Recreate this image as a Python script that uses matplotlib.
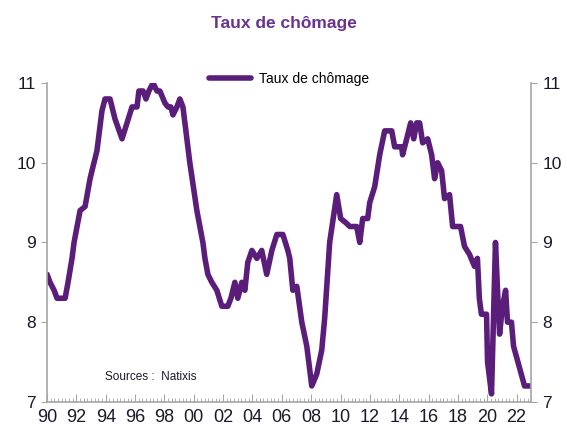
import matplotlib.pyplot as plt
from matplotlib.ticker import MultipleLocator

plt.rcParams['font.family'] = ['Liberation Sans', 'DejaVu Sans']

# Taux de chômage (France)
annees = [1990.00, 1990.20, 1990.48, 1990.68, 1991.23, 1991.43, 1991.70, 1991.84,
          1992.25, 1992.59, 1992.93, 1993.13, 1993.40, 1993.74, 1993.95, 1994.29,
          1994.63, 1995.11, 1995.45, 1995.79, 1996.13, 1996.26, 1996.54, 1996.74,
          1996.94, 1997.22, 1997.49, 1997.69, 1998.03, 1998.24, 1998.44, 1998.58,
          1998.85, 1999.05, 1999.26, 1999.73, 2000.21, 2000.62, 2000.76, 2000.96,
          2001.23, 2001.57, 2001.91, 2002.32, 2002.53, 2002.80, 2003.00, 2003.27,
          2003.48, 2003.68, 2003.96, 2004.30, 2004.63, 2004.97, 2005.32, 2005.66,
          2006.07, 2006.41, 2006.54, 2006.75, 2007.02, 2007.36, 2007.70, 2008.04,
          2008.38, 2008.72, 2008.92, 2009.26, 2009.74, 2010.01, 2010.35, 2010.63,
          2011.10, 2011.31, 2011.51, 2011.85, 2011.99, 2012.33, 2012.67, 2013.01,
          2013.49, 2013.69, 2014.17, 2014.23, 2014.51, 2014.78, 2014.99, 2015.19,
          2015.39, 2015.60, 2015.94, 2016.21, 2016.41, 2016.62, 2016.89, 2017.09,
          2017.43, 2017.64, 2018.18, 2018.45, 2018.79, 2019.13, 2019.33, 2019.46,
          2019.60, 2019.95, 2020.02, 2020.29, 2020.56, 2020.70, 2020.84, 2021.04,
          2021.25, 2021.38, 2021.65, 2021.79, 2022.54, 2022.95]
taux = [8.6, 8.5, 8.4, 8.3, 8.3, 8.5, 8.8, 9.0,
        9.4, 9.45, 9.8, 9.95, 10.15, 10.65, 10.8, 10.8,
        10.55, 10.3, 10.5, 10.7, 10.7, 10.9, 10.9, 10.8,
        10.9, 11.0, 10.9, 10.9, 10.75, 10.7, 10.7, 10.6,
        10.7, 10.8, 10.7, 10.0, 9.4, 9.0, 8.8, 8.6,
        8.5, 8.4, 8.2, 8.2, 8.3, 8.5, 8.3, 8.5,
        8.4, 8.75, 8.9, 8.8, 8.9, 8.6, 8.9, 9.1,
        9.1, 8.9, 8.8, 8.4, 8.45, 8.0, 7.7, 7.2,
        7.35, 7.65, 8.05, 9.0, 9.6, 9.3, 9.25, 9.2,
        9.2, 9.0, 9.3, 9.3, 9.5, 9.7, 10.1, 10.4,
        10.4, 10.2, 10.2, 10.1, 10.3, 10.5, 10.3, 10.5,
        10.5, 10.25, 10.3, 10.1, 9.8, 10.0, 9.9, 9.55,
        9.6, 9.2, 9.2, 8.95, 8.85, 8.7, 8.8, 8.3,
        8.1, 8.1, 7.5, 7.1, 9.0, 8.4, 7.85, 8.2,
        8.4, 8.0, 8.0, 7.7, 7.2, 7.2]

annees_ticks = list(range(1990, 2023, 2))
etiquettes = ['%02d' % (a % 100) for a in annees_ticks]

violet = '#5a1e7a'
gris = '#a6a6a6'
texte = '#1a1a2a'

fig = plt.figure(figsize=(5.67, 4.28), dpi=100)
ax = fig.add_axes([0.083, 0.061, 0.854, 0.745])

ax.plot(annees, taux, color=violet, linewidth=4, label='Taux de chômage',
        solid_joinstyle='round', solid_capstyle='round')

ax.set_xlim(1990, 2023)
ax.set_ylim(7, 11)
ax.set_yticks([7, 8, 9, 10, 11])
ax.set_xticks(annees_ticks)
ax.set_xticklabels(etiquettes)
ax.xaxis.set_minor_locator(MultipleLocator(0.25))

ax.spines['top'].set_visible(False)
for s in ['left', 'right', 'bottom']:
    ax.spines[s].set_color(gris)
    ax.spines[s].set_linewidth(1.2)

ax.tick_params(axis='y', direction='out', length=4, color=gris, labelsize=12.5,
               labelcolor=texte, left=True, right=True,
               labelleft=True, labelright=True, pad=4)
ax.tick_params(axis='x', which='major', direction='in', length=6, color=gris,
               labelsize=13, labelcolor=texte, pad=5)
ax.tick_params(axis='x', which='minor', direction='in', length=3, color=gris)

leg = ax.legend(loc='upper center', bbox_to_anchor=(0.5, 1.075), frameon=False,
                fontsize=10, handlelength=3.0, handletextpad=0.6)

ax.text(0.12, 0.07, 'Sources :  Natixis', transform=ax.transAxes, fontsize=8.5,
        color=texte)

fig.text(0.5, 0.945, 'Taux de chômage', ha='center', va='center', fontsize=12.5,
         fontweight='bold', color='#6a3290')

fig.savefig('out.png', dpi=100)
